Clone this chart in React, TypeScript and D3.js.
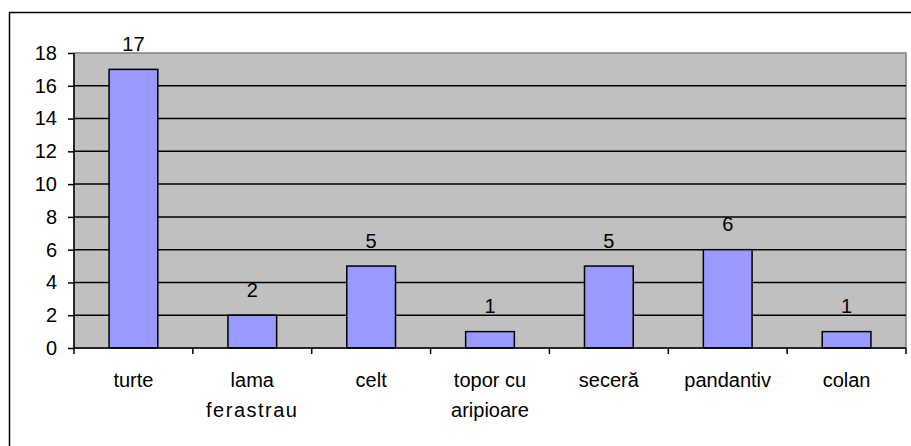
import React, { useEffect, useRef } from 'react';
import * as d3 from 'd3';

const categories = ['turte', 'lama\nferastrau', 'celt', 'topor cu\naripioare', 'seceră', 'pandantiv', 'colan'];
const values = [17, 2, 5, 1, 5, 6, 1];
const yTicks = [0, 2, 4, 6, 8, 10, 12, 14, 16, 18];

const App = () => {
  const ref = useRef<SVGSVGElement>(null);

  useEffect(() => {
    if (!ref.current) return;
    const svg = d3.select(ref.current);
    svg.selectAll('*').remove();

    const left = 74, right = 906, top = 53, bottom = 348;
    const font = "'Liberation Sans', Arial, sans-serif";
    const fs = 20;

    // outer chart frame (only top & left fall inside the picture)
    svg.append('rect')
      .attr('x', 9.5).attr('y', 12.5)
      .attr('width', 920).attr('height', 460)
      .attr('fill', 'white').attr('stroke', 'black').attr('stroke-width', 1.5);

    const x = d3.scaleBand<number>()
      .domain(d3.range(categories.length))
      .range([left, right])
      .paddingInner(0.59)
      .paddingOuter(0.295);
    const step = (right - left) / categories.length;

    const y = d3.scaleLinear().domain([0, 18]).range([bottom, top]);

    // plot area
    svg.append('rect')
      .attr('x', left).attr('y', top)
      .attr('width', right - left).attr('height', bottom - top)
      .attr('fill', '#c0c0c0').attr('stroke', '#808080').attr('stroke-width', 1.5);

    // gridlines
    svg.append('g').selectAll('line')
      .data(yTicks.filter(t => t > 0 && t < 18))
      .join('line')
      .attr('x1', left).attr('x2', right)
      .attr('y1', d => y(d)).attr('y2', d => y(d))
      .attr('stroke', 'black').attr('stroke-width', 1.5);

    // bars
    svg.append('g').selectAll('rect')
      .data(values)
      .join('rect')
      .attr('x', (_, i) => x(i)!)
      .attr('y', d => y(d))
      .attr('width', x.bandwidth())
      .attr('height', d => bottom - y(d))
      .attr('fill', '#9999ff').attr('stroke', 'black').attr('stroke-width', 1.5);

    // value labels
    svg.append('g').selectAll('text')
      .data(values)
      .join('text')
      .attr('x', (_, i) => x(i)! + x.bandwidth() / 2)
      .attr('y', d => y(d) - 18.5)
      .attr('text-anchor', 'middle')
      .attr('font-family', font).attr('font-size', fs)
      .text(d => d);

    // y axis
    const yAxis = d3.axisLeft(y).tickValues(yTicks).tickSize(6).tickPadding(11);
    const gy = svg.append('g').attr('transform', `translate(${left},0)`).call(yAxis);
    gy.select('.domain').attr('stroke', 'black').attr('stroke-width', 1.5)
      .attr('d', `M0,${bottom}V${top}`);
    gy.selectAll('.tick line').attr('stroke', 'black').attr('stroke-width', 1.5);
    gy.selectAll('.tick text').attr('font-family', font).attr('font-size', fs).attr('fill', 'black');

    // x axis
    svg.append('line')
      .attr('x1', left).attr('x2', right).attr('y1', bottom).attr('y2', bottom)
      .attr('stroke', 'black').attr('stroke-width', 1.5);
    svg.append('g').selectAll('line')
      .data(d3.range(categories.length + 1))
      .join('line')
      .attr('x1', d => left + d * step).attr('x2', d => left + d * step)
      .attr('y1', bottom).attr('y2', bottom + 6)
      .attr('stroke', 'black').attr('stroke-width', 1.5);

    const xl = svg.append('g').selectAll('text')
      .data(categories)
      .join('text')
      .attr('text-anchor', 'middle')
      .attr('font-family', font).attr('font-size', fs);
    xl.each(function (d, i) {
      const t = d3.select(this);
      d.split('\n').forEach((line, j) => {
        t.append('tspan')
          .attr('x', x(i)! + x.bandwidth() / 2)
          .attr('y', 387 + j * 29.5)
          .attr('letter-spacing', j === 1 && i === 1 ? 1.5 : 0)
          .text(line);
      });
    });
  }, []);

  return (
    <svg ref={ref} width={911} height={446}
      style={{ position: 'absolute', left: 0, top: 0, background: 'white' }} />
  );
};

export default App;
